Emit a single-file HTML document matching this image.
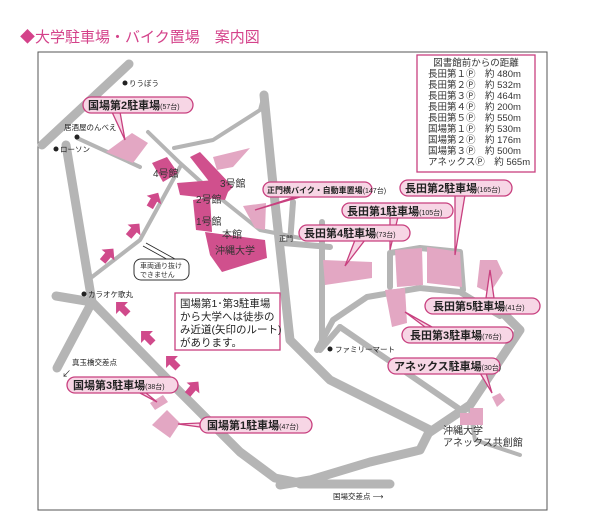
<!DOCTYPE html>
<html><head><meta charset="utf-8"><style>
html,body{margin:0;padding:0;background:#fff;}
svg{display:block;font-family:"Liberation Sans","Noto Sans CJK JP",sans-serif;}
</style></head><body>
<svg width="600" height="521" viewBox="0 0 600 521" xmlns="http://www.w3.org/2000/svg">
<text x="20" y="42" font-size="15" fill="#d4428a">◆大学駐車場・バイク置場　案内図</text>
<rect x="38" y="52" width="509" height="458" fill="#fff" stroke="#555" stroke-width="1"/>
<g fill="none" stroke="#b5b5b5" stroke-linecap="round" stroke-linejoin="round">
 <g stroke-width="9">
  <path d="M129,64 L42,145"/>
  <path d="M66,145 L92,302 L180,392 L240,452 L275,478 L305,484"/>
  <path d="M92,302 L56,296"/>
  <path d="M92,302 L57,368"/>
  <path d="M264,95 L272,175 L290,340 L330,380 L430,430 L420,450 L370,462 L310,480 L280,485"/>
  <path d="M300,484 L390,484"/>
  <path d="M430,432 L470,405 L520,330 L505,315"/>
 </g>
 <g stroke-width="6">
  <path d="M293,202 L290,243 M283,243 L330,247"/>
  <path d="M322,222 L322,340"/>
  <path d="M317,350 L333,320 L367,297 L420,288 L460,292 L500,316"/>
  <path d="M390,287 L390,253 L420,248 L460,252 L463,290"/>
  <path d="M340,327 L458,408"/>
  <path d="M340,327 L320,350"/>
 </g>
 <g stroke-width="4">
  <path d="M77,138 L140,167"/>
  <path d="M148,132 L180,163 L210,190 L260,230 L300,238"/>
  <path d="M174,148 L213,140 L260,110 L264,95"/>
  <path d="M180,167 L140,240 L92,277"/>
  <path d="M470,410 L475,440 L520,455"/>
 </g>
</g>
<g fill="#e3a7c3">
 <polygon points="106,152 132,133 148,143 133,163"/>
 <polygon points="213,157 250,148 233,167 217,170"/>
 <polygon points="243,206 266,203 265,230 255,228"/>
 <polygon points="323,260 372,262 372,278 325,285"/>
 <polygon points="395,250 422,248 423,285 397,287"/>
 <polygon points="427,247 460,252 462,287 427,283"/>
 <polygon points="480,260 497,260 503,273 490,293 477,287"/>
 <polygon points="385,290 405,288 407,323 392,327"/>
 <polygon points="492,397 500,393 505,400 497,407"/>
 <polygon points="460,413 470,413 470,408 483,408 483,425 460,425"/>
 <polygon points="150,403 163,395 168,402 155,410"/>
 <polygon points="152,425 167,410 180,423 170,438"/>
</g>
<g fill="#d0508d">
 <polygon points="152,163 167,157 178,173 163,182"/>
 <polygon points="190,157 200,152 233,187 222,198"/>
 <polygon points="177,183 215,180 228,192 225,200 180,195"/>
 <polygon points="193,200 210,197 212,232 196,230"/>
 <polygon points="205,232 265,240 267,258 222,272 210,255"/>
</g>
<g fill="#d04a8b">
 <g transform="translate(122,308) rotate(-45) scale(1.2)"><polygon points="0,-7 7,0 3,0 3,7 -3,7 -3,0 -7,0"/></g>
 <g transform="translate(147,337) rotate(-45) scale(1.2)"><polygon points="0,-7 7,0 3,0 3,7 -3,7 -3,0 -7,0"/></g>
 <g transform="translate(172,362) rotate(-45) scale(1.2)"><polygon points="0,-7 7,0 3,0 3,7 -3,7 -3,0 -7,0"/></g>
 <g transform="translate(193,388) rotate(40) scale(1.2)"><polygon points="0,-7 7,0 3,0 3,7 -3,7 -3,0 -7,0"/></g>
 <g transform="translate(108,255) rotate(40) scale(1.2)"><polygon points="0,-7 7,0 3,0 3,7 -3,7 -3,0 -7,0"/></g>
 <g transform="translate(134,230) rotate(40) scale(1.2)"><polygon points="0,-7 7,0 3,0 3,7 -3,7 -3,0 -7,0"/></g>
 <g transform="translate(154,200) rotate(30) scale(1.2)"><polygon points="0,-7 7,0 3,0 3,7 -3,7 -3,0 -7,0"/></g>
</g>
<g fill="#f7d6e5" stroke="#c8407f" stroke-width="1.3">
 <polygon points="112,112 120,112 125,140"/>
 <polygon points="295,197 300,197 255,210"/>
 <polygon points="455,195 465,195 455,255"/>
 <polygon points="390,217 398,217 390,250"/>
 <polygon points="355,240 365,240 345,266"/>
 <polygon points="486,298 494,298 490,270"/>
 <polygon points="425,327 432,327 405,312"/>
 <polygon points="480,373 486,373 492,393"/>
 <polygon points="140,393 146,393 157,402"/>
 <polygon points="200,423 200,427 178,424"/>
 <rect x="83" y="97" width="110" height="16" rx="8"/>
 <rect x="263" y="182" width="109" height="15" rx="7.5"/>
 <rect x="400" y="180" width="112" height="16" rx="8"/>
 <rect x="342" y="203" width="111" height="15" rx="7.5"/>
 <rect x="299" y="225" width="111" height="16" rx="8"/>
 <rect x="425" y="298" width="115" height="16" rx="8"/>
 <rect x="402" y="327" width="111" height="16" rx="8"/>
 <rect x="388" y="358" width="112" height="16" rx="8"/>
 <rect x="67" y="377" width="111" height="16" rx="8"/>
 <rect x="200" y="417" width="112" height="16" rx="8"/>
</g>
<g font-size="11" fill="#222" font-weight="bold">
 <text x="88" y="109">国場第2駐車場<tspan font-size="7" font-weight="normal">(57台)</tspan></text>
 <text x="267" y="193" font-size="8">正門横バイク・自動車置場<tspan font-size="7" font-weight="normal">(147台)</tspan></text>
 <text x="405" y="192">長田第2駐車場<tspan font-size="7" font-weight="normal">(165台)</tspan></text>
 <text x="347" y="215">長田第1駐車場<tspan font-size="7" font-weight="normal">(105台)</tspan></text>
 <text x="304" y="237">長田第4駐車場<tspan font-size="7" font-weight="normal">(73台)</tspan></text>
 <text x="433" y="310">長田第5駐車場<tspan font-size="7" font-weight="normal">(41台)</tspan></text>
 <text x="410" y="339">長田第3駐車場<tspan font-size="7" font-weight="normal">(76台)</tspan></text>
 <text x="394" y="370">アネックス駐車場<tspan font-size="7" font-weight="normal">(30台)</tspan></text>
 <text x="73" y="389">国場第3駐車場<tspan font-size="7" font-weight="normal">(38台)</tspan></text>
 <text x="207" y="429">国場第1駐車場<tspan font-size="7" font-weight="normal">(47台)</tspan></text>
</g>
<rect x="417" y="55" width="118" height="117" fill="#fff" stroke="#c8407f" stroke-width="1.3"/>
<g font-size="9.5" fill="#333">
 <text x="476" y="66" text-anchor="middle">図書館前からの距離</text>
 <text x="428" y="77">長田第１Ⓟ　約 480m</text>
 <text x="428" y="88">長田第２Ⓟ　約 532m</text>
 <text x="428" y="99">長田第３Ⓟ　約 464m</text>
 <text x="428" y="110">長田第４Ⓟ　約 200m</text>
 <text x="428" y="121">長田第５Ⓟ　約 550m</text>
 <text x="428" y="132">国場第１Ⓟ　約 530m</text>
 <text x="428" y="143">国場第２Ⓟ　約 176m</text>
 <text x="428" y="154">国場第３Ⓟ　約 500m</text>
 <text x="428" y="165">アネックスⓅ　約 565m</text>
</g>
<rect x="175" y="293" width="105" height="57" fill="#fff" stroke="#c8407f" stroke-width="1.3"/>
<g font-size="10.5" fill="#222">
 <text x="180" y="307">国場第1･第3駐車場</text>
 <text x="180" y="320">から大学へは徒歩の</text>
 <text x="180" y="333">み近道(矢印のルート)</text>
 <text x="180" y="346">があります。</text>
</g>
<path d="M143,246 L172,262 M146,243 L175,259" stroke="#222" stroke-width="0.8"/>
<rect x="134" y="259" width="55" height="21" rx="7" fill="#fff" stroke="#333" stroke-width="1"/>
<g font-size="7" fill="#333">
 <text x="140" y="268">車両通り抜け</text>
 <text x="140" y="277">できません</text>
</g>
<g fill="#222" font-size="7.5">
 <circle cx="125" cy="83" r="2.5"/><text x="129" y="86">りうぼう</text>
 <text x="64" y="130">居酒屋のんべえ</text><circle cx="77" cy="137" r="2.5"/>
 <circle cx="56" cy="149" r="2.5"/><text x="60" y="152">ローソン</text>
 <circle cx="84" cy="294" r="2.5"/><text x="88" y="297">カラオケ歌丸</text>
 <text x="72" y="365">真玉橋交差点</text>
 <text x="62" y="377" font-size="9">↙</text>
 <circle cx="330" cy="349" r="2.5"/><text x="335" y="352">ファミリーマート</text>
 <text x="333" y="499">国場交差点 ⟶</text>
 <text x="279" y="241" font-size="7">正門</text>
</g>
<g font-size="10" fill="#333">
 <text x="443" y="434">沖縄大学</text>
 <text x="443" y="446">アネックス共創館</text>
</g>
<g font-size="10" fill="#333">
 <text x="153" y="177">4号館</text>
 <text x="220" y="187">3号館</text>
 <text x="196" y="203">2号館</text>
 <text x="196" y="225">1号館</text>
 <text x="222" y="238">本館</text>
 <text x="215" y="254">沖縄大学</text>
</g>
</svg>
</body></html>
